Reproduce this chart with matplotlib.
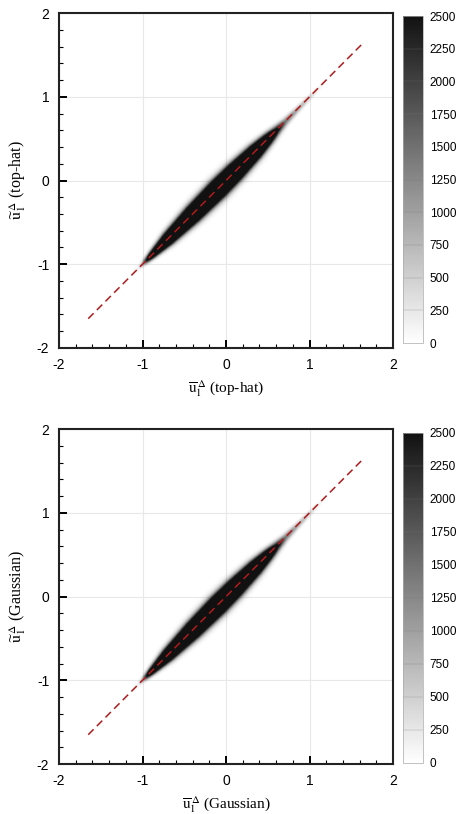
import numpy as np
import matplotlib
matplotlib.use("Agg")
import matplotlib.pyplot as plt
from matplotlib.colors import LinearSegmentedColormap, Normalize
import matplotlib.cm as cm
from matplotlib.ticker import MultipleLocator

plt.rcParams['font.family'] = ['Liberation Sans', 'DejaVu Sans']
plt.rcParams['mathtext.fontset'] = 'stix'
plt.rcParams['axes.unicode_minus'] = False

# ridge of the joint pdf along the diagonal: position t, peak count, spread across
ridge_t = [-1.15, -1.05, -1.0, -0.9, -0.7, -0.4, -0.1, 0.1, 0.35, 0.5, 0.6, 0.7, 0.85, 1.0, 1.1, 1.2]
ridge_peak = [0, 200, 900, 4500, 9000, 12000, 13000, 12000, 9500, 6000, 3000, 1500, 900, 450, 150, 0]
ridge_sigma = [0.013, 0.016, 0.020, 0.028, 0.044, 0.057, 0.062, 0.060, 0.051, 0.042, 0.035, 0.028, 0.022, 0.018, 0.015, 0.013]

diag_line = [-1.65, 1.65]
cbar_ticks = [0, 250, 500, 750, 1000, 1250, 1500, 1750, 2000, 2250, 2500]
panels = ["top-hat", "Gaussian"]

ink = (0.07, 0.07, 0.07)
cmap = LinearSegmentedColormap.from_list("g", ["#ffffff", ink])
cmap_a = LinearSegmentedColormap.from_list("ga", [ink + (0.0,), ink + (1.0,)])

grid = np.linspace(-2, 2, 600)
X, Y = np.meshgrid(grid, grid)
T = (X + Y) / 2.0
D = (Y - X) / np.sqrt(2.0)
peak = np.interp(T, ridge_t, ridge_peak, left=0, right=0)
sig = np.interp(T, ridge_t, ridge_sigma)
Z = peak * np.exp(-D**2 / (2 * sig**2))

fig = plt.figure(figsize=(4.62, 8.14), dpi=100)
ax_pos = [[0.1277, 0.5725, 0.723, 0.4115], [0.1277, 0.0614, 0.723, 0.4115]]
cb_pos = [[0.872, 0.5786, 0.0433, 0.4017], [0.872, 0.0627, 0.0433, 0.4054]]

for i in range(2):
    ax = fig.add_axes(ax_pos[i])
    ax.grid(True, which="major", color="#e8e8e8", lw=0.8, zorder=0)
    ax.set_axisbelow(True)
    ax.imshow(Z, extent=[-2, 2, -2, 2], origin="lower", cmap=cmap_a, vmin=0, vmax=2500,
              interpolation="bilinear", aspect="auto", zorder=1)
    ax.plot(diag_line, diag_line, ls=(0, (5, 3)), color="#b01c1c", lw=1.1, zorder=3)
    ax.set_xlim(-2, 2)
    ax.set_ylim(-2, 2)
    ax.set_xticks([-2, -1, 0, 1, 2])
    ax.set_yticks([-2, -1, 0, 1, 2])
    ax.xaxis.set_minor_locator(MultipleLocator(0.2))
    ax.yaxis.set_minor_locator(MultipleLocator(0.2))
    ax.tick_params(which="major", direction="in", length=6, width=1.4, labelsize=10, pad=7)
    ax.tick_params(which="minor", direction="in", length=3, width=0.8)
    for sp in ax.spines.values():
        sp.set_linewidth(1.5)
        sp.set_color("#222222")
    ax.set_xlabel(r"$\overline{\mathrm{u}}_{1}^{\,\Delta}$ (" + panels[i] + ")",
                  family="Liberation Serif", fontsize=11, labelpad=5)
    ax.set_ylabel(r"$\widetilde{\mathrm{u}}_{1}^{\,\Delta}$ (" + panels[i] + ")",
                  family="Liberation Serif", fontsize=11.5, labelpad=6)

    cax = fig.add_axes(cb_pos[i])
    sm = cm.ScalarMappable(norm=Normalize(0, 2500), cmap=cmap)
    cb = fig.colorbar(sm, cax=cax, ticks=cbar_ticks)
    for v in cbar_ticks[1:-1]:
        cax.axhline(v, color="#777777", lw=0.3, alpha=0.6)
    cb.outline.set_linewidth(0.5)
    cb.outline.set_edgecolor("#aaaaaa")
    cax.tick_params(length=0, labelsize=8.5, pad=5)

fig.savefig("out.png", dpi=100)
